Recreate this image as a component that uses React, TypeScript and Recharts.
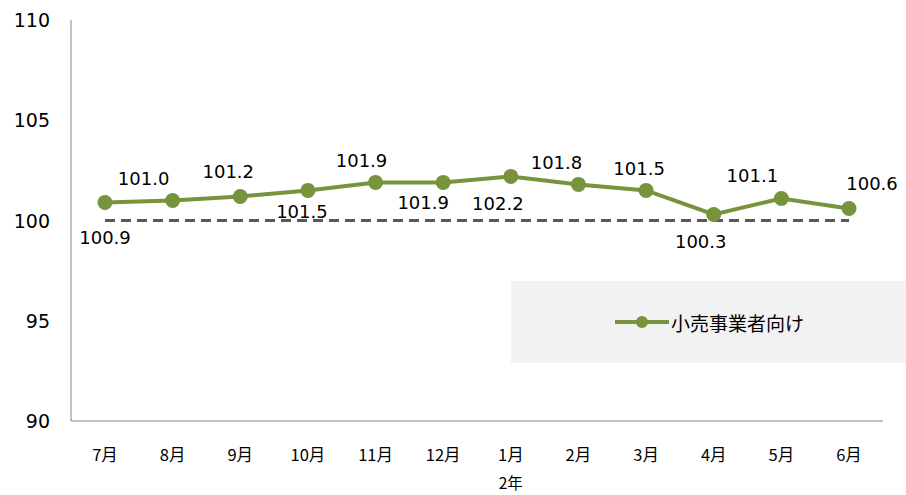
import React from 'react';
import { LineChart, Line, XAxis, YAxis, ReferenceLine, LabelList } from 'recharts';

const months = ['7月', '8月', '9月', '10月', '11月', '12月', '1月', '2月', '3月', '4月', '5月', '6月'];
const retail = [100.9, 101.0, 101.2, 101.5, 101.9, 101.9, 102.2, 101.8, 101.5, 100.3, 101.1, 100.6];
const yTicks = [90, 95, 100, 105, 110];
const baseValue = 100;
const yearLabel = '2年';
const seriesName = '小売事業者向け';

// manual label placement, like the hand-moved labels in the original sheet
const labelShift = [
  [0, 35], [-29, -22], [-12, -25], [-6, 21], [-14, -22], [-20, 20],
  [-13, 27], [-22, -22], [-7, -22], [-13, 27], [-29, -23], [23, -25],
];

const GREEN = '#77933C';
const numFont = '"DejaVu Sans", Verdana, sans-serif';
const jpFont = '"Noto Sans CJK JP", "Noto Sans", sans-serif';

const data = months.map((m, i) => ({ month: m, value: retail[i] }));

const PointLabel = (props: any) => {
  const { x, y, index, value } = props;
  const [dx, dy] = labelShift[index];
  return (
    <text x={x + dx} y={y + dy} textAnchor="middle" dominantBaseline="central"
      fontSize={18} fontFamily={numFont} fill="#000">
      {Number(value).toFixed(1)}
    </text>
  );
};

const MonthTick = ({ x, y, payload }: any) => (
  <g>
    <text x={x} y={y + 31} textAnchor="middle" dominantBaseline="central"
      fontSize={16.5} fontFamily={jpFont} fill="#000">
      {payload.value}
    </text>
    {payload.value === '1月' && (
      <text x={x} y={y + 59} textAnchor="middle" dominantBaseline="central"
        fontSize={15.5} fontFamily={jpFont} fill="#000">
        {yearLabel}
      </text>
    )}
  </g>
);

const ValueTick = ({ y, payload }: any) => (
  <text x={50} y={y} textAnchor="end" dominantBaseline="central"
    fontSize={19} fontFamily={numFont} fill="#000">
    {payload.value}
  </text>
);

const LegendBox = () => (
  <div style={{
    position: 'absolute', left: 511, top: 281, width: 395, height: 82,
    background: '#F2F2F2', display: 'flex', alignItems: 'center', paddingLeft: 104,
    boxSizing: 'border-box',
  }}>
    <svg width={54} height={16} style={{ marginRight: 2 }}>
      <line x1={0} y1={8} x2={54} y2={8} stroke={GREEN} strokeWidth={4} />
      <circle cx={27} cy={8} r={6} fill={GREEN} />
    </svg>
    <span style={{ fontFamily: jpFont, fontSize: 19, color: '#000' }}>{seriesName}</span>
  </div>
);

export default function App() {
  return (
    <div style={{ position: 'absolute', left: 0, top: 0, width: 906, height: 495, background: '#fff' }}>
      <LineChart width={906} height={495} data={data}
        margin={{ top: 20, right: 23, bottom: 0, left: 0 }}>
        <XAxis dataKey="month" padding={{ left: 34, right: 34 }} height={74}
          tickLine={false} tickSize={0} tick={<MonthTick />}
          axisLine={{ stroke: '#868686', strokeWidth: 1 }} interval={0} />
        <YAxis domain={[90, 110]} ticks={yTicks} width={71}
          tickLine={false} tickSize={0} tick={<ValueTick />}
          axisLine={{ stroke: '#868686', strokeWidth: 1 }} />
        <ReferenceLine
          segment={[{ x: months[0], y: baseValue }, { x: months[months.length - 1], y: baseValue }]}
          stroke="#595959" strokeWidth={3} strokeDasharray="10 6" />
        <Line type="linear" dataKey="value" name={seriesName} stroke={GREEN} strokeWidth={4}
          dot={{ r: 7.5, fill: GREEN, stroke: GREEN, strokeWidth: 0 }}
          activeDot={false} isAnimationActive={false}>
          <LabelList dataKey="value" content={<PointLabel />} />
        </Line>
      </LineChart>
      <LegendBox />
    </div>
  );
}
